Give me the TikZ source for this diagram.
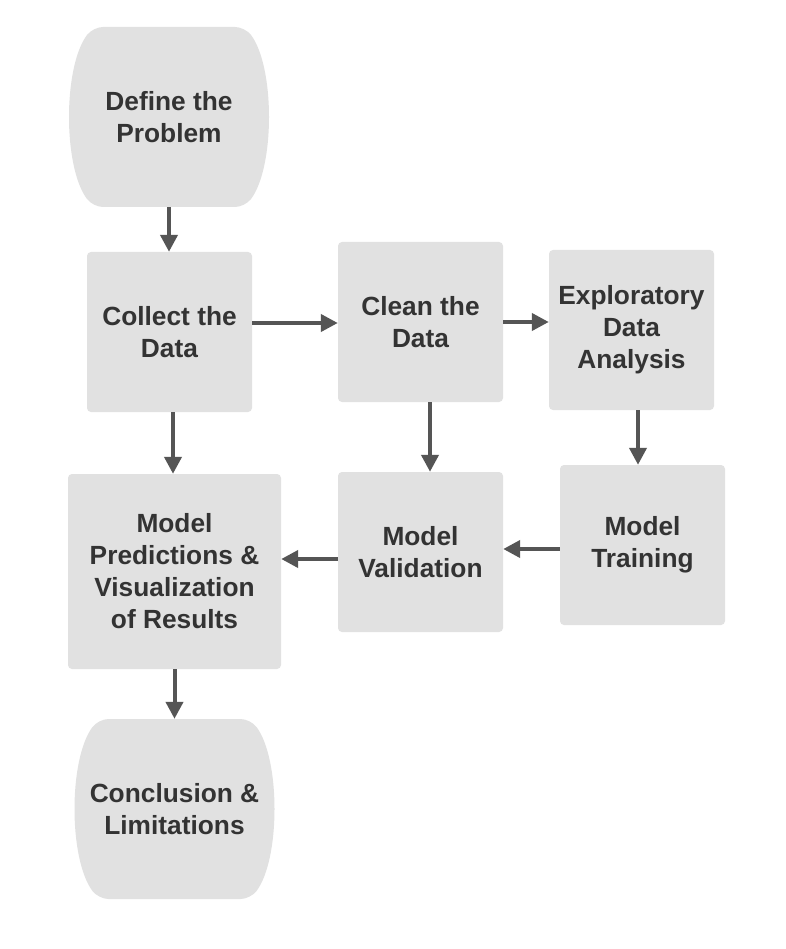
\documentclass[tikz,border=0pt]{standalone}
\usepackage{fontspec}
\setmainfont{Liberation Sans}
\usetikzlibrary{arrows.meta,calc}
\definecolor{boxfill}{HTML}{E1E1E1}
\definecolor{txt}{HTML}{333333}
\definecolor{arrowc}{HTML}{555555}
\tikzset{
  box/.style={rectangle, rounded corners=4pt, fill=boxfill, text=txt, align=center,
    font=\bfseries\fontsize{26.3}{32}\selectfont, inner sep=0pt},
  termtext/.style={rectangle, text=txt, align=center, minimum width=198pt, minimum height=180pt,
    font=\bfseries\fontsize{26.3}{32}\selectfont, inner sep=0pt},
  termfill/.style={fill=boxfill, rounded corners=10pt},
  arr/.style={draw=arrowc, line width=4pt, -{Triangle[length=17pt,width=17pt]}}
}
\newcommand\termshape[1]{%
  \fill[termfill] ($(#1)+(0,-90)$) -- ($(#1)+(76,-90)$)
    .. controls ($(#1)+(106,-50)$) and ($(#1)+(106,50)$) .. ($(#1)+(76,90)$)
    -- ($(#1)+(-76,90)$)
    .. controls ($(#1)+(-106,50)$) and ($(#1)+(-106,-50)$) .. ($(#1)+(-76,-90)$)
    -- cycle;}
\begin{document}
\begin{tikzpicture}[x=1pt,y=-1pt]
\useasboundingbox (0,0) rectangle (785,949);
\fill[white] (0,0) rectangle (785,949);
% terminals
\coordinate (cdef) at (169,117);
\coordinate (cconc) at (174.5,809);
\termshape{cdef}
\termshape{cconc}
\node[termtext] (define) at (cdef) {Define the\\Problem};
\node[termtext] (concl) at (cconc) {Conclusion \&\\Limitations};
% boxes
\node[box, minimum width=165pt, minimum height=160pt] (collect) at (169.5,332) {Collect the\\Data};
\node[box, minimum width=165pt, minimum height=160pt] (clean) at (420.5,322) {Clean the\\Data};
\node[box, minimum width=165pt, minimum height=160pt] (eda) at (631.5,330) {Exploratory\\Data\\Analysis};
\node[box, minimum width=213pt, minimum height=195pt] (pred) at (174.5,571.5) {Model\\Predictions \&\\Visualization\\of Results};
\node[box, minimum width=165pt, minimum height=160pt] (valid) at (420.5,552) {Model\\Validation};
\node[box, minimum width=165pt, minimum height=160pt] (train) at (642.5,545) {Model\\Training};
% arrows
\draw[arr] (define.south) -- (define.south |- collect.north);
\draw[arr] ([yshift=9pt]collect.east) -- ([yshift=9pt]collect.east -| clean.west);
\draw[arr] (clean.east) -- (clean.east -| eda.west);
\draw[arr] ([xshift=3.5pt]collect.south) -- ([xshift=3.5pt]collect.south |- pred.north);
\draw[arr] ([xshift=9.5pt]clean.south) -- ([xshift=9.5pt]clean.south |- valid.north);
\draw[arr] ([xshift=6.5pt]eda.south) -- ([xshift=6.5pt]eda.south |- train.north);
\draw[arr] ([yshift=-4pt]train.west) -- ([yshift=-4pt]train.west -| valid.east);
\draw[arr] ([yshift=-7pt]valid.west) -- ([yshift=-7pt]valid.west -| pred.east);
\draw[arr] (pred.south) -- (pred.south |- concl.north);
\end{tikzpicture}
\end{document}
